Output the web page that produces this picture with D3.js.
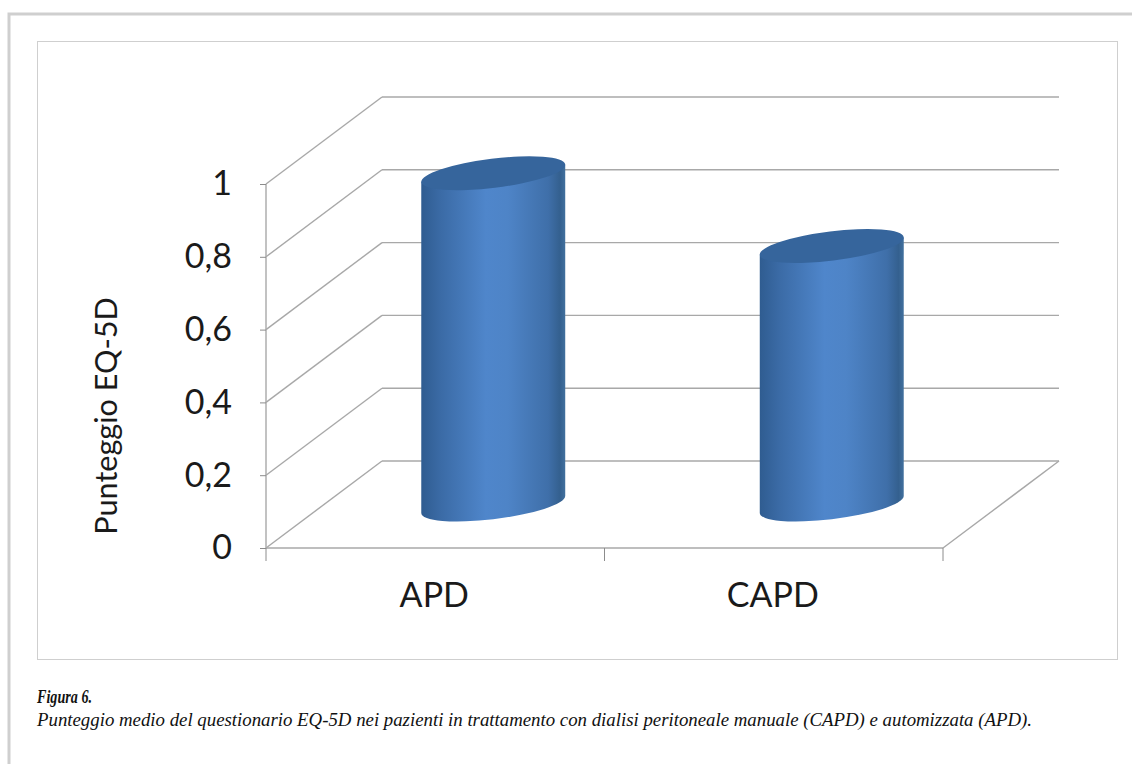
<!DOCTYPE html>
<html>
<head>
<meta charset="utf-8">
<script src="https://cdn.jsdelivr.net/npm/d3@7"></script>
<style>
	html, body { margin: 0; padding: 0; background: #fff; }
	svg { display: block; }
</style>
</head>
<body>
<svg></svg>
<script>
// data
var categories = ["APD", "CAPD"];
var values = [0.91, 0.71];
var yTicks = [0, 0.2, 0.4, 0.6, 0.8, 1];
var yTitle = "Punteggio EQ-5D";
var captionTitle = "Figura 6.";
var captionText = "Punteggio medio del questionario EQ-5D nei pazienti in trattamento con dialisi peritoneale manuale (CAPD) e automizzata (APD).";

var width = 1132;
var height = 764;

// plot area, front edge of the floor
var margin = { top: 184, left: 266, bottom: 216, right: 189 };
// how far the back wall is pushed by the 3d view
var depth = { x: 116, y: -87 };

var svg = d3.select("svg")
	.attr("width", width)
	.attr("height", height);

var xScale = d3.scaleBand().domain(categories).range([margin.left, width - margin.right]);
var yScale = d3.scaleLinear().domain([0, 1]).range([height - margin.bottom, margin.top]);

var gridColor = "#a8a8a8";
var font = "Lato, 'Open Sans', sans-serif";

// page frame
svg.append("path")
	.attr("d", "M9,764V14H1132")
	.attr("fill", "none")
	.attr("stroke", "#cfcfcf")
	.attr("stroke-width", 3);

// chart frame
svg.append("rect")
	.attr("x", 37.5).attr("y", 41.5)
	.attr("width", 1080).attr("height", 618)
	.attr("fill", "#fff")
	.attr("stroke", "#cfcfcf");

// walls: back gridlines and the diagonals on the side wall
var grid = svg.append("g")
	.attr("fill", "none")
	.attr("stroke", gridColor)
	.attr("stroke-width", 1.4);

grid.selectAll(".back")
	.data(yTicks)
	.join("line")
	.attr("class", "back")
	.attr("x1", margin.left + depth.x)
	.attr("x2", width - margin.right + depth.x)
	.attr("y1", function(d) { return yScale(d) + depth.y; })
	.attr("y2", function(d) { return yScale(d) + depth.y; });

grid.selectAll(".side")
	.data(yTicks)
	.join("line")
	.attr("class", "side")
	.attr("x1", margin.left)
	.attr("x2", margin.left + depth.x)
	.attr("y1", function(d) { return yScale(d); })
	.attr("y2", function(d) { return yScale(d) + depth.y; });

// right edge of the floor
grid.append("line")
	.attr("x1", width - margin.right)
	.attr("x2", width - margin.right + depth.x)
	.attr("y1", yScale(0))
	.attr("y2", yScale(0) + depth.y);

// axes
var xAxis = svg.append("g")
	.attr("transform", `translate(0, ${yScale(0)})`)
	.call(d3.axisBottom(xScale).tickSize(0).tickPadding(35));

var yAxis = svg.append("g")
	.attr("transform", `translate(${margin.left}, 0)`)
	.call(d3.axisLeft(yScale)
		.tickValues(yTicks)
		.tickSize(6)
		.tickPadding(28)
		.tickFormat(function(d) { return String(d).replace(".", ","); }));

xAxis.select(".domain").attr("stroke", gridColor).attr("stroke-width", 1.6).attr("d", `M${margin.left},0H${width - margin.right}`);
yAxis.select(".domain").attr("stroke", gridColor).attr("stroke-width", 1.4).attr("d", `M0,${yScale(1)}V${yScale(0)}`);
yAxis.selectAll(".tick line").attr("stroke", "#8c8c8c");
xAxis.selectAll(".tick text").attr("dy", "0.72em").attr("dx", -1);
svg.selectAll(".tick text")
	.attr("font-family", font)
	.attr("font-size", 34)
	.attr("fill", "#1a1a1a");

// category separators under the floor
svg.append("g")
	.selectAll("line")
	.data([categories[0], categories[1], null])
	.join("line")
	.attr("x1", function(d) { return d ? xScale(d) : xScale.range()[1]; })
	.attr("x2", function(d) { return d ? xScale(d) : xScale.range()[1]; })
	.attr("y1", yScale(0))
	.attr("y2", yScale(0) + 13)
	.attr("stroke", "#8c8c8c");

svg.append("text")
	.attr("text-anchor", "middle")
	.attr("transform", "translate(117," + 416 + ")rotate(-90)")
	.attr("font-family", font)
	.attr("font-size", 30.6)
	.attr("fill", "#1a1a1a")
	.text(yTitle);

// cylinders
var rx = 72.5;
var ry = 14.6;
var tilt = -7;
var defs = svg.append("defs");

var barX = function(d) { return xScale(d) + xScale.bandwidth() / 2 + depth.x / 2; };
var baseY = yScale(0) + depth.y / 2;
var topY = function(i) { return yScale(values[i]) + depth.y / 2; };

// where the sides of the cylinder touch the tilted ellipse
var rad = tilt * Math.PI / 180;
var sideX = Math.sqrt(rx * rx * Math.cos(rad) * Math.cos(rad) + ry * ry * Math.sin(rad) * Math.sin(rad));
var sideY = -(rx * rx - ry * ry) * Math.sin(rad) * Math.cos(rad) / sideX;

categories.forEach(function(d, i) {
	var cx = barX(d);
	var grad = defs.append("linearGradient")
		.attr("id", "body" + i)
		.attr("gradientUnits", "userSpaceOnUse")
		.attr("x1", cx - rx).attr("x2", cx + rx)
		.attr("y1", 0).attr("y2", 0);
	grad.append("stop").attr("offset", "0%").attr("stop-color", "#2f5c90");
	grad.append("stop").attr("offset", "14%").attr("stop-color", "#3b6ba6");
	grad.append("stop").attr("offset", "45%").attr("stop-color", "#4f86cb");
	grad.append("stop").attr("offset", "60%").attr("stop-color", "#4e84c7");
	grad.append("stop").attr("offset", "88%").attr("stop-color", "#3f6fa9");
	grad.append("stop").attr("offset", "96%").attr("stop-color", "#34608f");
	grad.append("stop").attr("offset", "100%").attr("stop-color", "#43729f");

	var bar = svg.append("g").attr("class", "bar");

	var body = d3.path();
	body.moveTo(cx - sideX, topY(i) + sideY);
	body.lineTo(cx - sideX, baseY + sideY);

	bar.append("path")
		.attr("d", body.toString()
			+ `A${rx},${ry} ${tilt} 0 0 ${cx + sideX},${baseY - sideY}`
			+ `L${cx + sideX},${topY(i) - sideY}Z`)
		.attr("fill", `url(#body${i})`);

	bar.append("ellipse")
		.attr("rx", rx).attr("ry", ry)
		.attr("transform", `translate(${cx},${topY(i)}) rotate(${tilt})`)
		.attr("fill", "#36659c");
});

// caption
svg.append("text")
	.attr("x", 37).attr("y", 703)
	.attr("font-family", "'Liberation Serif', serif")
	.attr("font-style", "italic")
	.attr("font-weight", "bold")
	.attr("font-size", 18)
	.attr("textLength", 55)
	.attr("lengthAdjust", "spacingAndGlyphs")
	.attr("fill", "#111")
	.text(captionTitle);

svg.append("text")
	.attr("x", 37).attr("y", 726)
	.attr("font-family", "'Liberation Serif', serif")
	.attr("font-style", "italic")
	.attr("font-size", 18)
	.attr("textLength", 995)
	.attr("lengthAdjust", "spacingAndGlyphs")
	.attr("fill", "#111")
	.text(captionText);
</script>
</body>
</html>
